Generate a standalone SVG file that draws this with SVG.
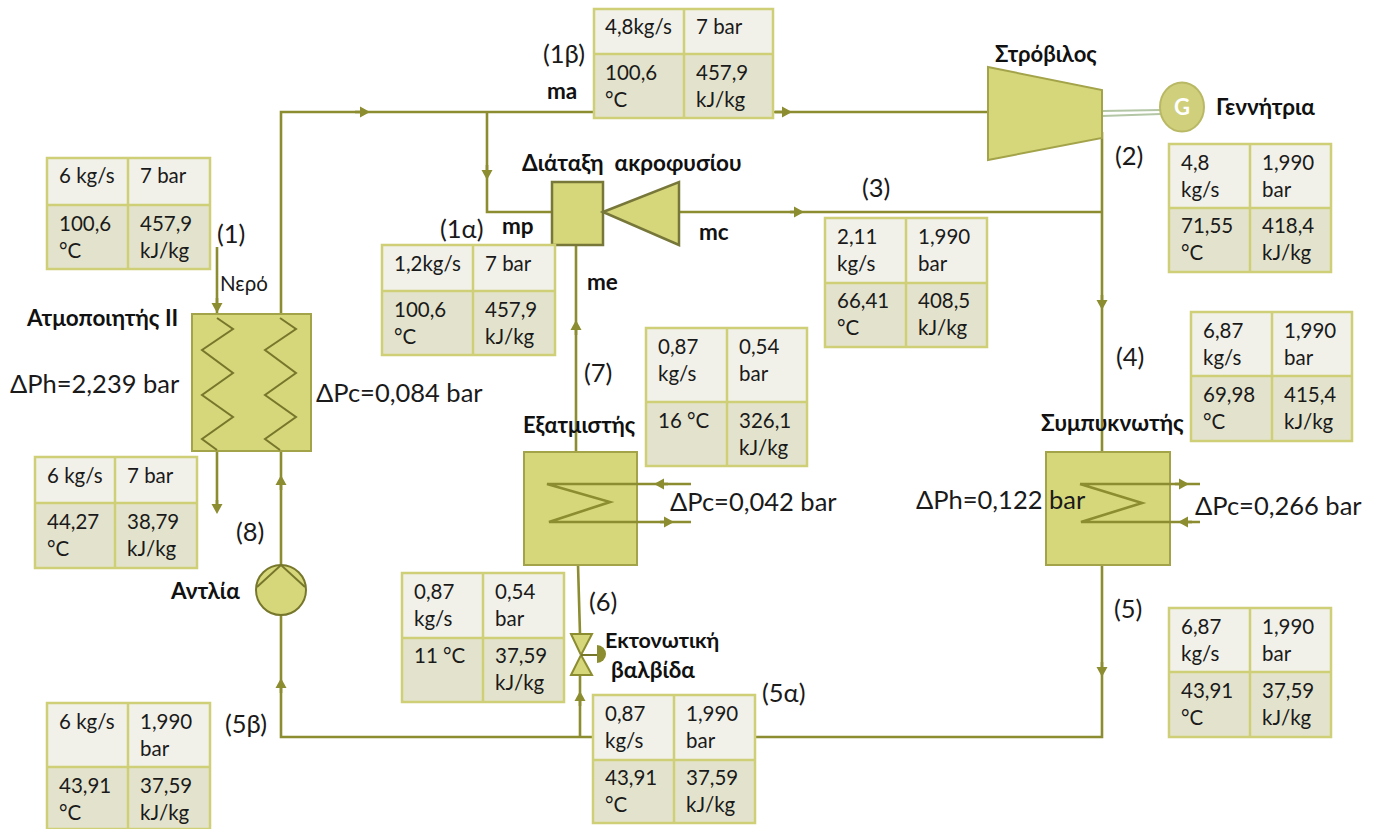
<svg xmlns="http://www.w3.org/2000/svg" width="1374" height="829" viewBox="0 0 1374 829">
<style>
text{font-family:Lato,"Liberation Sans",sans-serif;font-size:20.5px;fill:#1a1a1a}
.b{font-weight:700;font-size:22.5px;fill:#111}
.l{font-size:25.5px}
.c{fill:none;stroke:#8c8c30;stroke-width:2.6}
.a{fill:none;stroke:#8c8c30;stroke-width:2.6;marker-end:url(#ah)}
.z{fill:none;stroke:#77772c;stroke-width:2}
.n{fill:#d6d67a;stroke:#a3a34a;stroke-width:2}
.d{fill:#d6d67a;stroke:#77773a;stroke-width:2.5}
.h{fill:#f1f1e9}.m{fill:#e3e3cd}
.g{fill:none;stroke:#cfcf78;stroke-width:2.5}
</style>
<defs><marker id="ah" markerUnits="userSpaceOnUse" markerWidth="14" markerHeight="14" refX="6" refY="7" orient="auto"><path d="M0 1.500L10 7L0 12.500Z" fill="#8c8c30"/></marker></defs>
<rect width="1374" height="829" fill="#fff"/>
<g id="connectors">
<path class="c" d="M281 314V112H988M487 112V212H552M680 212H1102M1102 132V452M1102 565V737H281V615M281 565V451M576 245V452M578 565L580 634M580 675V737M217 247V314M217 451V510"/>
<path class="a" d="M355 112H366"/><path class="a" d="M775 112H788"/><path class="a" d="M487 165V176"/><path class="a" d="M790 212H800"/><path class="a" d="M1102 295V306"/><path class="a" d="M1102 662V673"/><path class="a" d="M576 335V324"/><path class="a" d="M580 706V695"/><path class="a" d="M281 693V682"/><path class="a" d="M281 490V479"/><path class="a" d="M217 298V309"/><path class="a" d="M217 500V510"/>
<path d="M1102 111L1161 110M1102 116L1161 114" fill="none" stroke="#b3c6a5" stroke-width="2"/>
</g>
<g id="boiler"><rect class="n" x="192" y="314" width="119" height="137"/><path class="z" d="M217 318L233 329L202 350L233 373L202 395L233 417L202 439L217 450M280 318L296 329L265 350L296 373L265 395L296 417L265 439L280 450"/><text class="b" x="27" y="326">Ατμοποιητής ΙΙ</text></g>
<g id="turbine"><path class="n" d="M988 67L1102 90V138L988 160Z"/><text class="b" x="995" y="62" style="font-size:22px">Στρόβιλος</text></g>
<g id="generator"><ellipse cx="1182" cy="107" rx="22" ry="24.500" fill="#d0d07c" stroke="#b9b965" stroke-width="2"/><text x="1182" y="115" text-anchor="middle" style="font-size:22px;font-weight:700;fill:#fff">G</text><text class="b" x="1216" y="115">Γεννήτρια</text></g>
<g id="ejector"><rect class="d" x="552" y="182" width="51" height="63"/><path class="d" d="M603 212L679 182V245Z"/><text class="b" x="522" y="171" style="white-space:pre">Διάταξη  ακροφυσίου</text></g>
<g id="evaporator"><rect class="n" x="524" y="452" width="113" height="113"/><text class="b" x="523" y="433" style="font-size:22px">Εξατμιστής</text></g>
<g id="condenser"><rect class="n" x="1046" y="452" width="124" height="113"/><text class="b" x="1041" y="431">Συμπυκνωτής</text></g>
<g id="pump"><circle cx="281" cy="590" r="25" fill="#d6d67a" stroke="#77772c" stroke-width="2"/><path class="z" d="M257 587L281 565L305 587"/><text class="b" x="171" y="599">Αντλία</text></g>
<g id="valve"><path class="n" style="stroke:#8c8c30" d="M571 634H592L581 655L592 675H571L581 655Z"/><path class="z" d="M581 655H597"/><path d="M597 645A9 9 0 0 1 597 663Z" fill="#8c8c30"/><text class="b" x="605" y="648" style="font-size:21.500px">Εκτονωτική</text><text class="b" x="611" y="678">βαλβίδα</text></g>
<g id="coils">
<path class="c" d="M691 484H547L610 502L549 522H691M1080 484H1200M1080 484L1142 503L1081 522H1200"/>
<path class="a" d="M668 484H658"/><path class="a" d="M660 522H670"/><path class="a" d="M1175 484H1185"/><path class="a" d="M1192 522H1182"/>
</g>
<g id="labels">
<text class="l" x="543" y="63">(1β)</text><text class="l" x="862" y="197">(3)</text><text class="l" x="1115" y="165">(2)</text><text class="l" x="217" y="243">(1)</text><text class="l" x="440" y="238">(1α)</text><text class="l" x="1116" y="366">(4)</text><text class="l" x="584" y="382">(7)</text><text class="l" x="236" y="541">(8)</text><text class="l" x="589" y="611">(6)</text><text class="l" x="1114" y="618">(5)</text><text class="l" x="762" y="702">(5α)</text><text class="l" x="225" y="733">(5β)</text>
<text x="220" y="291">Νερό</text>
<text class="b" x="547" y="99">ma</text><text class="b" x="502" y="234">mp</text><text class="b" x="699" y="240">mc</text><text class="b" x="587" y="290">me</text>
<text class="l" x="10" y="393">ΔPh=2,239 bar</text><text class="l" x="316" y="402">ΔPc=0,084 bar</text><text class="l" x="670" y="511">ΔPc=0,042 bar</text><text class="l" x="916" y="509">ΔPh=0,122 bar</text><text class="l" x="1195" y="515">ΔPc=0,266 bar</text>
</g>
<g id="t1"><rect class="h" x="594" y="9" width="179" height="45"/><rect class="m" x="594" y="54" width="179" height="64"/><path class="g" d="M594 9H773V118H594ZM594 54H773M684 9V118"/><text x="605" y="34">4,8kg/s</text><text x="696" y="34">7 bar</text><text x="605" y="80">100,6</text><text x="605" y="107">°C</text><text x="696" y="80">457,9</text><text x="696" y="107">kJ/kg</text></g>
<g id="t2"><rect class="h" x="1169" y="144" width="162" height="64"/><rect class="m" x="1169" y="208" width="162" height="64"/><path class="g" d="M1169 144H1331V272H1169ZM1169 208H1331M1250 144V272"/><text x="1181" y="170">4,8</text><text x="1181" y="197">kg/s</text><text x="1262" y="170">1,990</text><text x="1262" y="197">bar</text><text x="1181" y="233">71,55</text><text x="1181" y="260">°C</text><text x="1262" y="233">418,4</text><text x="1262" y="260">kJ/kg</text></g>
<g id="t3"><rect class="h" x="47" y="158" width="163" height="47"/><rect class="m" x="47" y="205" width="163" height="64"/><path class="g" d="M47 158H210V269H47ZM47 205H210M128 158V269"/><text x="59" y="183">6 kg/s</text><text x="140" y="183">7 bar</text><text x="59" y="231">100,6</text><text x="59" y="258">°C</text><text x="140" y="231">457,9</text><text x="140" y="258">kJ/kg</text></g>
<g id="t4"><rect class="h" x="382" y="245" width="173" height="46"/><rect class="m" x="382" y="291" width="173" height="64"/><path class="g" d="M382 245H555V355H382ZM382 291H555M473 245V355"/><text x="394" y="271">1,2kg/s</text><text x="485" y="271">7 bar</text><text x="394" y="317">100,6</text><text x="394" y="344">°C</text><text x="485" y="317">457,9</text><text x="485" y="344">kJ/kg</text></g>
<g id="t5"><rect class="h" x="825" y="218" width="162" height="65"/><rect class="m" x="825" y="283" width="162" height="64"/><path class="g" d="M825 218H987V347H825ZM825 283H987M906 218V347"/><text x="837" y="244">2,11</text><text x="837" y="271">kg/s</text><text x="918" y="244">1,990</text><text x="918" y="271">bar</text><text x="837" y="308">66,41</text><text x="837" y="335">°C</text><text x="918" y="308">408,5</text><text x="918" y="335">kJ/kg</text></g>
<g id="t6"><rect class="h" x="1191" y="312" width="161" height="64"/><rect class="m" x="1191" y="376" width="161" height="65"/><path class="g" d="M1191 312H1352V441H1191ZM1191 376H1352M1272 312V441"/><text x="1203" y="338">6,87</text><text x="1203" y="365">kg/s</text><text x="1284" y="338">1,990</text><text x="1284" y="365">bar</text><text x="1203" y="402">69,98</text><text x="1203" y="429">°C</text><text x="1284" y="402">415,4</text><text x="1284" y="429">kJ/kg</text></g>
<g id="t7"><rect class="h" x="646" y="328" width="161" height="74"/><rect class="m" x="646" y="402" width="161" height="64"/><path class="g" d="M646 328H807V466H646ZM646 402H807M727 328V466"/><text x="658" y="354">0,87</text><text x="658" y="381">kg/s</text><text x="739" y="354">0,54</text><text x="739" y="381">bar</text><text x="658" y="428">16 °C</text><text x="739" y="428">326,1</text><text x="739" y="455">kJ/kg</text></g>
<g id="t8"><rect class="h" x="35" y="457" width="162" height="46"/><rect class="m" x="35" y="503" width="162" height="65"/><path class="g" d="M35 457H197V568H35ZM35 503H197M115 457V568"/><text x="47" y="483">6 kg/s</text><text x="127" y="483">7 bar</text><text x="47" y="529">44,27</text><text x="47" y="556">°C</text><text x="127" y="529">38,79</text><text x="127" y="556">kJ/kg</text></g>
<g id="t9"><rect class="h" x="402" y="573" width="162" height="65"/><rect class="m" x="402" y="638" width="162" height="64"/><path class="g" d="M402 573H564V702H402ZM402 638H564M483 573V702"/><text x="414" y="599">0,87</text><text x="414" y="626">kg/s</text><text x="495" y="599">0,54</text><text x="495" y="626">bar</text><text x="414" y="663">11 °C</text><text x="495" y="663">37,59</text><text x="495" y="690">kJ/kg</text></g>
<g id="t10"><rect class="h" x="593" y="695" width="162" height="65"/><rect class="m" x="593" y="760" width="162" height="63"/><path class="g" d="M593 695H755V823H593ZM593 760H755M674 695V823"/><text x="605" y="721">0,87</text><text x="605" y="748">kg/s</text><text x="686" y="721">1,990</text><text x="686" y="748">bar</text><text x="605" y="785">43,91</text><text x="605" y="812">°C</text><text x="686" y="785">37,59</text><text x="686" y="812">kJ/kg</text></g>
<g id="t11"><rect class="h" x="1169" y="608" width="162" height="64"/><rect class="m" x="1169" y="672" width="162" height="65"/><path class="g" d="M1169 608H1331V737H1169ZM1169 672H1331M1250 608V737"/><text x="1181" y="634">6,87</text><text x="1181" y="661">kg/s</text><text x="1262" y="634">1,990</text><text x="1262" y="661">bar</text><text x="1181" y="698">43,91</text><text x="1181" y="725">°C</text><text x="1262" y="698">37,59</text><text x="1262" y="725">kJ/kg</text></g>
<g id="t12"><rect class="h" x="47" y="703" width="163" height="64"/><rect class="m" x="47" y="767" width="163" height="62"/><path class="g" d="M47 703H210V829H47ZM47 767H210M128 703V829"/><text x="59" y="729">6 kg/s</text><text x="140" y="729">1,990</text><text x="140" y="756">bar</text><text x="59" y="793">43,91</text><text x="59" y="820">°C</text><text x="140" y="793">37,59</text><text x="140" y="820">kJ/kg</text></g>
</svg>
